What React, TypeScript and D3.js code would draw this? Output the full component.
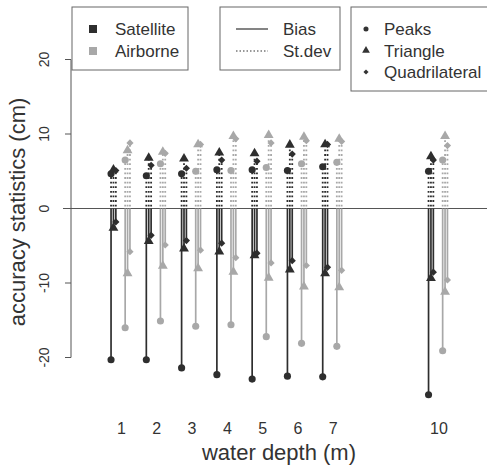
import React, { useEffect, useRef } from 'react'
import * as d3 from 'd3'

// water depths (m)
const depths = [1, 2, 3, 4, 5, 6, 7, 10]
const methods = ['Peaks', 'Triangle', 'Quadrilateral']
const platforms = ['Satellite', 'Airborne']

// satellite bias / st.dev (cm)
const satPeaksBias = [-20.3, -20.3, -21.4, -22.3, -22.9, -22.5, -22.6, -25.0]
const satPeaksSd = [4.65, 4.4, 4.65, 5.2, 5.2, 5.1, 5.6, 5.0]
const satTriBias = [-2.6, -4.4, -5.4, -5.8, -6.3, -8.2, -8.7, -9.35]
const satTriSd = [5.2, 6.8, 6.7, 7.5, 7.4, 8.55, 8.6, 7.0]
const satQuadBias = [-1.8, -3.6, -4.3, -4.65, -6.0, -7.0, -7.9, -8.55]
const satQuadSd = [5.1, 5.8, 5.4, 6.5, 6.35, 7.3, 8.6, 6.5]

// airborne bias / st.dev (cm)
const airPeaksBias = [-16.0, -15.1, -15.8, -15.6, -17.2, -18.1, -18.5, -19.1]
const airPeaksSd = [6.5, 6.0, 5.0, 5.1, 5.5, 6.0, 6.2, 6.5]
const airTriBias = [-8.7, -7.7, -8.05, -8.5, -9.3, -10.5, -10.6, -11.2]
const airTriSd = [7.8, 7.6, 8.6, 9.7, 9.85, 9.6, 9.35, 9.7]
const airQuadBias = [-5.8, -4.9, -5.6, -6.6, -7.3, -7.65, -8.3, -9.6]
const airQuadSd = [8.8, 7.4, 8.6, 9.35, 8.8, 9.1, 9.0, 8.45]

const yTicks = [-20, -10, 0, 10, 20]

const App = () => {
  const svgRef = useRef<SVGSVGElement>(null)

  useEffect(() => {
    const svg = d3.select(svgRef.current)
    svg.selectAll('*').remove()

    const width = 487
    const height = 467
    const font = 'Liberation Sans, Arial, Helvetica, sans-serif'
    const textColor = '#333'
    const colors = { Satellite: '#2e2e2e', Airborne: '#a8a8a8' }

    const x = d3.scaleLinear().domain([1, 10]).range([120.5, 438])
    const y = d3.scaleLinear().domain([-20, 20]).range([357.5, 59.5])

    // offsets in depth units
    const platformOffset = { Satellite: -0.2, Airborne: 0.2 }
    const methodOffset = { Peaks: -0.068, Triangle: 0, Quadrilateral: 0.068 }

    const symbolFor = (m: string, big: boolean) => {
      if (m === 'Peaks') return d3.symbol(d3.symbolCircle, big ? 40 : 20)()
      if (m === 'Triangle') return d3.symbol(d3.symbolTriangle, big ? 42 : 26)()
      return d3.symbol(d3.symbolSquare, big ? 26 : 13)()
    }
    const rot = (m: string) => (m === 'Quadrilateral' ? ' rotate(45)' : '')

    svg.append('rect').attr('width', width).attr('height', height).attr('fill', '#ffffff')

    // zero line
    svg.append('line')
      .attr('x1', 63).attr('x2', width)
      .attr('y1', y(0)).attr('y2', y(0))
      .attr('stroke', '#555').attr('stroke-width', 1)

    const series = [
      { p: 'Satellite', m: 'Peaks', bias: satPeaksBias, sd: satPeaksSd },
      { p: 'Satellite', m: 'Triangle', bias: satTriBias, sd: satTriSd },
      { p: 'Satellite', m: 'Quadrilateral', bias: satQuadBias, sd: satQuadSd },
      { p: 'Airborne', m: 'Peaks', bias: airPeaksBias, sd: airPeaksSd },
      { p: 'Airborne', m: 'Triangle', bias: airTriBias, sd: airTriSd },
      { p: 'Airborne', m: 'Quadrilateral', bias: airQuadBias, sd: airQuadSd },
    ]

    const plot = svg.append('g')
    series.forEach((s) => {
      const col = colors[s.p]
      const xs = depths.map((d) => x(d + platformOffset[s.p] + methodOffset[s.m]))
      const g = plot.append('g')
      // bias (solid)
      g.selectAll('line.bias')
        .data(s.bias)
        .enter()
        .append('line')
        .attr('x1', (d, i) => xs[i]).attr('x2', (d, i) => xs[i])
        .attr('y1', y(0)).attr('y2', (d) => y(d))
        .attr('stroke', col).attr('stroke-width', 1.7)
      // st.dev (dotted)
      g.selectAll('line.sd')
        .data(s.sd)
        .enter()
        .append('line')
        .attr('x1', (d, i) => xs[i]).attr('x2', (d, i) => xs[i])
        .attr('y1', y(0) - 2).attr('y2', (d) => y(d))
        .attr('stroke', col).attr('stroke-width', 1.8)
        .attr('stroke-dasharray', '1.8,2.8')
      const marks = s.bias.concat(s.sd)
      g.selectAll('path')
        .data(marks)
        .enter()
        .append('path')
        .attr('d', symbolFor(s.m, true))
        .attr('transform', (d, i) => `translate(${xs[i % depths.length]},${y(d)})${rot(s.m)}`)
        .attr('fill', col)
    })

    // y axis
    const axisColor = '#555'
    svg.append('line')
      .attr('x1', 71).attr('x2', 71)
      .attr('y1', y(-20)).attr('y2', y(20))
      .attr('stroke', axisColor).attr('stroke-width', 1)
    yTicks.forEach((t) => {
      svg.append('line')
        .attr('x1', 65).attr('x2', 71)
        .attr('y1', y(t)).attr('y2', y(t))
        .attr('stroke', axisColor).attr('stroke-width', 1)
      svg.append('text')
        .attr('transform', `translate(49,${y(t)}) rotate(-90)`)
        .attr('text-anchor', 'middle')
        .attr('font-family', font)
        .attr('font-size', 14)
        .attr('fill', textColor)
        .text(t)
    })
    svg.append('text')
      .attr('transform', `translate(25,212) rotate(-90)`)
      .attr('text-anchor', 'middle')
      .attr('font-family', font)
      .attr('font-size', 22)
      .attr('fill', textColor)
      .text('accuracy statistics (cm)')

    // x labels
    svg.selectAll('text.xlab')
      .data(depths)
      .enter()
      .append('text')
      .attr('class', 'xlab')
      .attr('x', (d) => x(d) + 1)
      .attr('y', 434)
      .attr('text-anchor', 'middle')
      .attr('font-family', font)
      .attr('font-size', 16)
      .attr('fill', textColor)
      .text((d) => d)
    svg.append('text')
      .attr('x', 279).attr('y', 460)
      .attr('text-anchor', 'middle')
      .attr('font-family', font)
      .attr('font-size', 22)
      .attr('fill', textColor)
      .text('water depth (m)')

    // legends
    const boxStroke = '#666'
    const legendText = (g, tx, ty, label) =>
      g.append('text')
        .attr('x', tx).attr('y', ty + 6)
        .attr('font-family', font)
        .attr('font-size', 17)
        .attr('fill', textColor)
        .text(label)

    const leg1 = svg.append('g')
    leg1.append('rect').attr('x', 72).attr('y', 7).attr('width', 116).attr('height', 63)
      .attr('fill', '#fff').attr('stroke', boxStroke)
    platforms.forEach((p, i) => {
      const cy = 29 + i * 22
      leg1.append('rect').attr('x', 89).attr('y', cy - 4).attr('width', 8).attr('height', 8)
        .attr('fill', colors[p])
      legendText(leg1, 115, cy, p)
    })

    const leg2 = svg.append('g')
    leg2.append('rect').attr('x', 220).attr('y', 7).attr('width', 120).attr('height', 63)
      .attr('fill', '#fff').attr('stroke', boxStroke)
    ;['Bias', 'St.dev'].forEach((lab, i) => {
      const cy = 29 + i * 22
      leg2.append('line').attr('x1', 236).attr('x2', 268).attr('y1', cy).attr('y2', cy)
        .attr('stroke', '#333').attr('stroke-width', 1.2)
        .attr('stroke-dasharray', i === 1 ? '1.5,2' : null)
      legendText(leg2, 283, cy, lab)
    })

    const leg3 = svg.append('g')
    leg3.append('rect').attr('x', 351).attr('y', 7).attr('width', 140).attr('height', 84)
      .attr('fill', '#fff').attr('stroke', boxStroke)
    methods.forEach((m, i) => {
      const cy = 29 + i * 21.5
      leg3.append('path')
        .attr('d', symbolFor(m, false))
        .attr('transform', `translate(366,${cy})${rot(m)}`)
        .attr('fill', '#333')
      legendText(leg3, 384, cy, m)
    })
  }, [])

  return (
    <svg
      ref={svgRef}
      width={487}
      height={467}
      style={{ position: 'absolute', left: 0, top: 0 }}
    />
  )
}

export default App
